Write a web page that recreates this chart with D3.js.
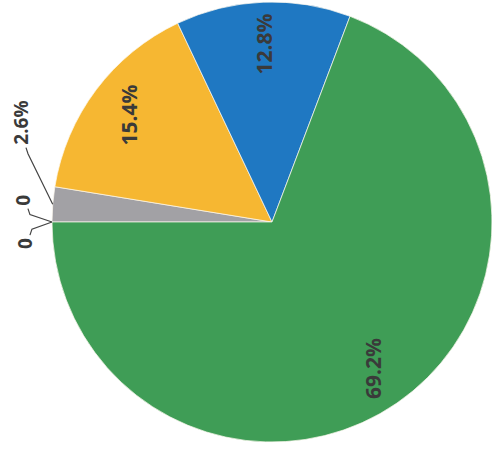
<!DOCTYPE html>
<html>
<head>
<meta charset="utf-8">
<script src="https://cdn.jsdelivr.net/npm/d3@7"></script>
<style>
  html, body { margin: 0; padding: 0; background: #fff; }
  svg { display: block; }
</style>
</head>
<body>
<div id="chart"></div>
<script>
'use strict';

// chart data (counts; labels show share of the total)
var categories = ['Category 1', 'Category 2', 'Category 3', 'Category 4', 'Category 5', 'Category 6'];
var counts = [0, 0, 1, 6, 5, 27];
var sliceColors = ['#5b9bd5', '#ed7d31', '#a2a1a5', '#f6b732', '#1f78c2', '#3f9d56'];

var width = 492;
var height = 457;
var cx = 272;
var cy = 222;
var radius = 220;
var insideLabelRadius = 178;

// small slices get outside labels; nudges (deg) / extra distance to keep them apart
var outsideNudge = { 0: 5, 1: -5, 2: 17 };
var outsideDist = { 0: 30, 1: 28, 2: 50 };

var total = d3.sum(counts);
var fmtPct = d3.format('.1%');

var svg = d3.select('#chart').append('svg')
    .attr('width', width)
    .attr('height', height);

var pie = d3.pie()
    .sort(null)
    .startAngle(-Math.PI / 2)
    .endAngle(3 * Math.PI / 2);

var arcs = pie(counts);

var arc = d3.arc()
    .innerRadius(0)
    .outerRadius(radius);

var labelArc = d3.arc()
    .innerRadius(insideLabelRadius)
    .outerRadius(insideLabelRadius);

var g = svg.append('g')
    .attr('transform', 'translate(' + cx + ',' + cy + ')');

g.selectAll('path.slice')
    .data(arcs)
    .enter().append('path')
    .attr('class', 'slice')
    .attr('d', arc)
    .attr('fill', function (d, i) { return sliceColors[i]; })
    .attr('stroke', '#fdfaf0')
    .attr('stroke-width', 1)
    .attr('stroke-opacity', function (d) { return d.value > 0 ? 0.7 : 0; });

function labelText(d) {
    return d.value === 0 ? '0' : fmtPct(d.value / total);
}

function isOutside(d) {
    return d.value / total < 0.05;
}

// inside labels
g.selectAll('text.inside')
    .data(arcs.filter(function (d) { return !isOutside(d); }))
    .enter().append('text')
    .attr('class', 'inside')
    .attr('transform', function (d) {
        var c = labelArc.centroid(d);
        return 'translate(' + c[0] + ',' + c[1] + ') rotate(-90)';
    })
    .attr('text-anchor', 'middle')
    .attr('dy', '0.36em')
    .attr('font-family', 'Open Sans, sans-serif')
    .attr('font-weight', 700)
    .attr('font-size', '21px')
    .attr('fill', '#3a3a3a')
    .text(labelText);

// outside labels with leader lines
arcs.forEach(function (d, i) {
    if (!isOutside(d)) {
        return;
    }
    var mid = (d.startAngle + d.endAngle) / 2;
    var anchor = [Math.sin(mid) * radius, -Math.cos(mid) * radius];
    var la = mid + (outsideNudge[i] || 0) * Math.PI / 180;
    var lr = radius + (outsideDist[i] || 30);
    var lx = Math.sin(la) * lr;
    var ly = -Math.cos(la) * lr;

    var t = g.append('text')
        .attr('transform', 'translate(' + lx + ',' + ly + ') rotate(-90)')
        .attr('text-anchor', 'middle')
        .attr('dy', '0.36em')
        .attr('font-family', 'Open Sans, sans-serif')
        .attr('font-weight', 700)
        .attr('font-size', '19px')
        .attr('fill', '#3a3a3a')
        .text(labelText(d));

    var halfLen = t.node().getComputedTextLength() / 2;
    var sign = anchor[1] > ly ? 1 : -1;
    var start = [lx + 5, ly + sign * (halfLen + 3)];
    var elbow = [start[0] + 2, start[1] + sign * 6];

    g.append('path')
        .attr('d', d3.line()([start, elbow, anchor]))
        .attr('fill', 'none')
        .attr('stroke', '#444')
        .attr('stroke-width', 1.2);
});
</script>
</body>
</html>
